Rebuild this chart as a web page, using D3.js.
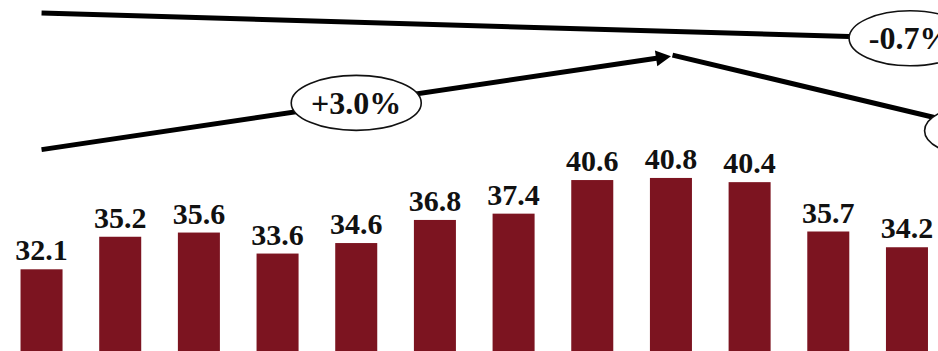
<!DOCTYPE html>
<html>
<head>
<meta charset="utf-8">
<script src="https://cdn.jsdelivr.net/npm/d3@7"></script>
<style>
  html, body { margin: 0; padding: 0; background: #ffffff; }
  svg { display: block; }
</style>
</head>
<body>
<div id="chart"></div>
<script>
// ---- data ----
const categories = ["1", "2", "3", "4", "5", "6", "7", "8", "9", "10", "11", "12"];
const values = [32.1, 35.2, 35.6, 33.6, 34.6, 36.8, 37.4, 40.6, 40.8, 40.4, 35.7, 34.2];
const valueLabels = ["32.1", "35.2", "35.6", "33.6", "34.6", "36.8", "37.4", "40.6", "40.8", "40.4", "35.7", "34.2"];

// trend annotations (category index / value space)
const trendNames  = ["overall", "rise", "fall"];
const trendLabels = ["-0.7%", "+3.0%", ""];
const trendFromIdx = [0, 0, 8.02];
const trendFromVal = [56.5, 43.5, 52.5];
const trendToIdx   = [11.04, 8, 12.05];
const trendToVal   = [54.1, 52.4, 45.3];
const trendLabelAt = [1, 0.5, 1];   // fraction along line where the ellipse sits
const trendArrow   = [false, true, false];

// ---- layout ----
const W = 938, H = 351;
const svg = d3.select("#chart").append("svg").attr("width", W).attr("height", H);

const x = d3.scaleBand().domain(categories).range([2.2, 946.3])
  .paddingInner(0.466).paddingOuter(0.233);
const y = d3.scaleLinear().domain([0, 40.8]).range([606.35, 177.95]);
const xIdx = d3.scaleLinear().domain([0, categories.length - 1])
  .range([x(categories[0]) + x.bandwidth() / 2, x(categories[categories.length - 1]) + x.bandwidth() / 2]);

const barColor = "#7c1420";
const fontFam = "'Liberation Serif', 'Times New Roman', serif";

// bars
svg.append("g").selectAll("rect").data(values).join("rect")
  .attr("x", (d, i) => x(categories[i]))
  .attr("width", x.bandwidth())
  .attr("y", d => y(d))
  .attr("height", d => y(0) - y(d))
  .attr("fill", barColor);

// value labels
svg.append("g").selectAll("text").data(values).join("text")
  .attr("x", (d, i) => x(categories[i]) + x.bandwidth() / 2)
  .attr("y", d => y(d) - 9)
  .attr("text-anchor", "middle")
  .attr("font-family", fontFam)
  .attr("font-weight", "bold")
  .attr("font-size", 30)
  .attr("fill", "#111")
  .text((d, i) => valueLabels[i]);

// trend lines
const gT = svg.append("g");
trendNames.forEach((name, k) => {
  const x1 = xIdx(trendFromIdx[k]), y1 = y(trendFromVal[k]);
  const x2 = xIdx(trendToIdx[k]), y2 = y(trendToVal[k]);
  let ex = x2, ey = y2;
  if (trendArrow[k]) {
    const len = Math.hypot(x2 - x1, y2 - y1);
    const ux = (x2 - x1) / len, uy = (y2 - y1) / len;
    const aL = 15, aW = 8;
    ex = x2 - ux * (aL - 2); ey = y2 - uy * (aL - 2);
    const bx = x2 - ux * aL, by = y2 - uy * aL;
    gT.append("path")
      .attr("d", `M${x2},${y2}L${bx - uy * aW},${by + ux * aW}L${bx + uy * aW},${by - ux * aW}Z`)
      .attr("fill", "#000");
  }
  gT.append("line")
    .attr("x1", x1).attr("y1", y1).attr("x2", ex).attr("y2", ey)
    .attr("stroke", "#000").attr("stroke-width", 5);
});

// ellipse labels
trendNames.forEach((name, k) => {
  const t = trendLabelAt[k];
  const cx = xIdx(trendFromIdx[k] + (trendToIdx[k] - trendFromIdx[k]) * t);
  const cy = y(trendFromVal[k] + (trendToVal[k] - trendFromVal[k]) * t);
  const rx = k === 0 ? 61 : 65, ry = 27.5;
  gT.append("ellipse")
    .attr("cx", cx).attr("cy", cy).attr("rx", rx).attr("ry", ry)
    .attr("fill", "#fff").attr("stroke", "#111").attr("stroke-width", 1.6);
  if (trendLabels[k]) {
    gT.append("text")
      .attr("x", cx).attr("y", cy + 11)
      .attr("text-anchor", "middle")
      .attr("font-family", fontFam)
      .attr("font-weight", "bold")
      .attr("font-size", 32)
      .attr("fill", "#111")
      .text(trendLabels[k]);
  }
});
</script>
</body>
</html>
